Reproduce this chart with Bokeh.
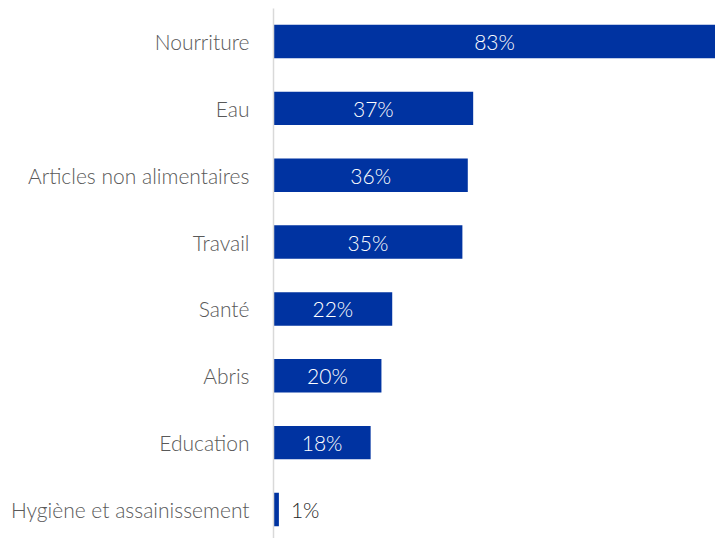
from bokeh.plotting import figure
from bokeh.models import ColumnDataSource, Range1d, FixedTicker
from bokeh.core.properties import value
from bokeh.embed import file_html
from bokeh.resources import INLINE

categories = ["Nourriture", "Eau", "Articles non alimentaires", "Travail",
              "Santé", "Abris", "Education", "Hygiène et assainissement"]
values = [83, 37, 36, 35, 22, 20, 18, 1]
labels = ["83%", "37%", "36%", "35%", "22%", "20%", "18%", "1%"]

BLUE = "#0033A1"
FONT = "Lato Light"

n = len(categories)
ypos = list(range(n))

p = figure(width=715, height=538, output_backend="svg", toolbar_location=None,
           x_range=Range1d(0, 81.9), y_range=Range1d(n - 1 + 0.434, -0.494),
           min_border_left=273, min_border_right=0, min_border_top=8, min_border_bottom=0,
           outline_line_color=None, background_fill_color="white")

src = ColumnDataSource(dict(y=ypos, v=values, cat=categories, lab=labels))
p.hbar(y="y", right="v", left=0, height=0.5, source=src, color=BLUE, line_color=None)

inside = [i for i, v in enumerate(values) if v >= 5]
outside = [i for i, v in enumerate(values) if v < 5]
src_in = ColumnDataSource(dict(x=[min(values[i], 81.9) / 2 for i in inside], y=[ypos[i] for i in inside],
                               t=[labels[i] for i in inside]))
src_out = ColumnDataSource(dict(x=[values[i] for i in outside], y=[ypos[i] for i in outside],
                                t=[labels[i] for i in outside]))
p.text(x="x", y="y", text="t", source=src_in, text_align="center", text_baseline="middle",
       text_color="white", text_font=value(FONT), text_font_size="21px")
p.text(x="x", y="y", text="t", source=src_out, text_align="left", text_baseline="middle",
       x_offset=12, text_color="#262626", text_font=value(FONT), text_font_size="21px")

p.xaxis.visible = False
p.xgrid.visible = False
p.ygrid.visible = False
ax = p.yaxis[0]
ax.ticker = FixedTicker(ticks=ypos)
ax.major_label_overrides = {i: c for i, c in zip(ypos, categories)}
ax.major_tick_line_color = None
ax.minor_tick_line_color = None
ax.axis_line_color = "#D9D9D9"
ax.axis_line_width = 1.5
ax.major_label_standoff = 18
ax.major_label_text_font = FONT
ax.major_label_text_font_size = "21px"
ax.major_label_text_color = "#595959"

open("out.html", "w").write(file_html(p, INLINE))
